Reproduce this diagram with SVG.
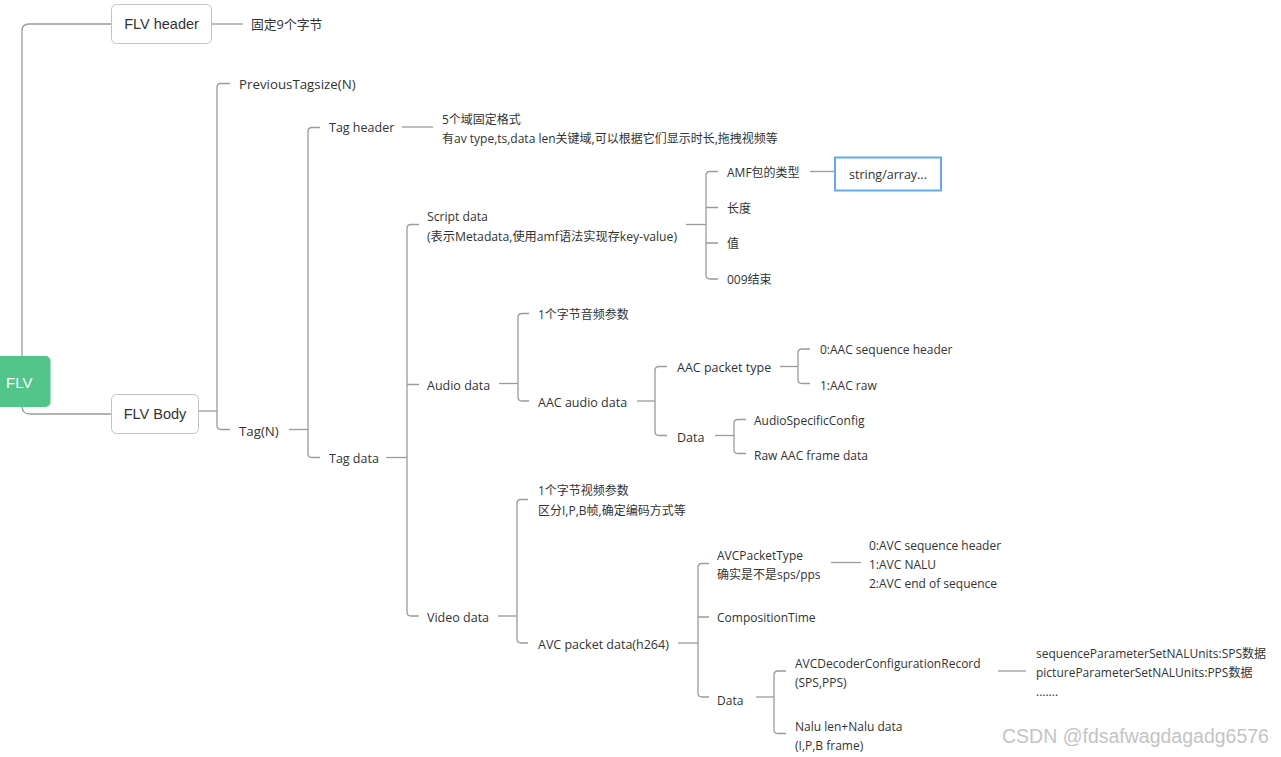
<svg xmlns="http://www.w3.org/2000/svg" width="1281" height="757" viewBox="0 0 1281 757">
<style>
text{font-family:"Open Sans","Noto Sans CJK SC",sans-serif;font-size:12px;fill:#333;dominant-baseline:central}
.big{font-family:"Liberation Sans","Noto Sans CJK SC",sans-serif;font-size:14.5px}
.lbl{font-size:12.5px}
.l2{font-size:13.3px}
.sd{font-size:12.2px}
.root{font-family:"Liberation Sans",sans-serif;font-size:15px;fill:#fff}
.box{fill:#fff;stroke:#c2c2c2;stroke-width:1}
#connectors path{fill:none;stroke:#9b9b9b;stroke-width:1.3}
.wm{font-family:"Liberation Sans",sans-serif;font-size:19.5px;fill:#c4c4c4}
</style>
<rect width="1281" height="757" fill="#fff"/>
<g id="connectors">
<path d="M22,356 V31 Q22,24 29,24 H111.5"/>
<path d="M22,406 Q22,414 30,414 H111.5"/>
<path d="M212,24 H243"/>
<path d="M199,411 H217"/>
<path d="M230,83.5 H221 Q217,83.5 217,87.5 V425.5 Q217,429.5 221,429.5 H230"/>
<path d="M289,429.5 H308"/>
<path d="M320,127.5 H312 Q308,127.5 308,131.5 V453.5 Q308,457.5 312,457.5 H320"/>
<path d="M402,127 H433"/>
<path d="M386,457.5 H407"/>
<path d="M419,224.5 H411 Q407,224.5 407,228.5 V612 Q407,616 411,616 H419 M407,384.5 H419"/>
<path d="M686,224.5 H706"/>
<path d="M718,171.5 H710 Q706,171.5 706,175.5 V275 Q706,279 710,279 H718 M706,207.5 H718 M706,243 H718"/>
<path d="M810,171.5 H834"/>
<path d="M499,383.5 H518"/>
<path d="M529,313.5 H522 Q518,313.5 518,317.5 V397 Q518,401 522,401 H529"/>
<path d="M637,401 H655"/>
<path d="M667,366.5 H659 Q655,366.5 655,370.5 V431.5 Q655,435.5 659,435.5 H667"/>
<path d="M780,366.5 H798"/>
<path d="M810,349 H802 Q798,349 798,353 V379.5 Q798,383.5 802,383.5 H810"/>
<path d="M715,435.5 H734"/>
<path d="M746,419.5 H738 Q734,419.5 734,423.5 V449.5 Q734,453.5 738,453.5 H746"/>
<path d="M498,616 H517"/>
<path d="M528,499.5 H521 Q517,499.5 517,503.5 V639 Q517,643 521,643 H528"/>
<path d="M678,643 H698"/>
<path d="M709,563.5 H702 Q698,563.5 698,567.5 V693 Q698,697 702,697 H709 M698,617 H709"/>
<path d="M831,562.5 H861"/>
<path d="M756,697 H774"/>
<path d="M786,671 H778 Q774,671 774,675 V729.5 Q774,733.5 778,733.5 H786"/>
<path d="M998,671 H1026"/>
</g>
<g id="flv">
<rect x="-6" y="356" width="56.5" height="51" rx="5" fill="#52c58b"/>
<text class="root" x="6" y="382">FLV</text>
</g>
<g id="flv-header">
<rect class="box" x="111.5" y="4.5" width="100" height="39" rx="5"/>
<text class="big" x="161.5" y="24" text-anchor="middle">FLV header</text>
</g>
<g id="fixed9"><text style="font-size:12.8px" x="251" y="24">固定9个字节</text></g>
<g id="flv-body">
<rect class="box" x="111.5" y="394.5" width="87" height="39" rx="5"/>
<text class="big" x="155" y="414" text-anchor="middle">FLV Body</text>
</g>
<g id="prev"><text class="l2" x="239" y="83.5">PreviousTagsize(N)</text></g>
<g id="tagn"><text class="l2" x="239" y="431">Tag(N)</text></g>
<g id="tag-header"><text class="lbl" x="329" y="127.5">Tag header</text></g>
<g id="tag-header-desc"><text x="442" y="119">5个域固定格式</text><text x="442" y="138">有av type,ts,data len关键域,可以根据它们显示时长,拖拽视频等</text></g>
<g id="tag-data"><text class="lbl" x="329" y="458">Tag data</text></g>
<g id="script-data"><text class="sd" x="427" y="216.5">Script data</text><text class="sd" x="427" y="236">(表示Metadata,使用amf语法实现存key-value)</text></g>
<g id="amf"><text x="727" y="172">AMF包的类型</text></g>
<g id="string-array">
<rect x="835" y="157.5" width="106" height="33" fill="#fff" stroke="#64a9f5" stroke-width="2"/>
<text class="lbl" x="849" y="174">string/array...</text>
</g>
<g id="len"><text x="727" y="208">长度</text></g>
<g id="val"><text x="727" y="243">值</text></g>
<g id="end009"><text x="727" y="279">009结束</text></g>
<g id="audio-data"><text class="lbl" x="427" y="385">Audio data</text></g>
<g id="audio-param"><text x="538" y="314">1个字节音频参数</text></g>
<g id="aac-audio"><text class="lbl" x="538" y="402">AAC audio data</text></g>
<g id="aac-type"><text class="lbl" x="677" y="367">AAC packet type</text></g>
<g id="aac-seq"><text x="820" y="349">0:AAC sequence header</text></g>
<g id="aac-raw"><text x="820" y="385">1:AAC raw</text></g>
<g id="audio-d"><text class="lbl" x="677" y="437">Data</text></g>
<g id="asc"><text x="754" y="420">AudioSpecificConfig</text></g>
<g id="raw-aac"><text x="754" y="455">Raw AAC frame data</text></g>
<g id="video-data"><text class="lbl" x="427" y="617">Video data</text></g>
<g id="video-param"><text x="538" y="490.5">1个字节视频参数</text><text x="538" y="510">区分I,P,B帧,确定编码方式等</text></g>
<g id="avc-packet"><text class="lbl" x="538" y="644">AVC packet data(h264)</text></g>
<g id="avc-type"><text x="717" y="555">AVCPacketType</text><text x="717" y="574">确实是不是sps/pps</text></g>
<g id="avc-type-vals"><text x="869" y="545">0:AVC sequence header</text><text x="869" y="564">1:AVC NALU</text><text x="869" y="583">2:AVC end of sequence</text></g>
<g id="comp-time"><text x="717" y="617">CompositionTime</text></g>
<g id="video-d"><text x="717" y="700">Data</text></g>
<g id="avcdcr"><text x="795" y="663">AVCDecoderConfigurationRecord</text><text x="795" y="682">(SPS,PPS)</text></g>
<g id="nalu"><text x="795" y="726.5">Nalu len+Nalu data</text><text x="795" y="745">(I,P,B frame)</text></g>
<g id="sps-pps"><text x="1036" y="653">sequenceParameterSetNALUnits:SPS数据</text><text x="1036" y="672">pictureParameterSetNALUnits:PPS数据</text><text x="1036" y="691">.......</text></g>
<text class="wm" x="1002" y="736">CSDN @fdsafwagdagadg6576</text>
</svg>
